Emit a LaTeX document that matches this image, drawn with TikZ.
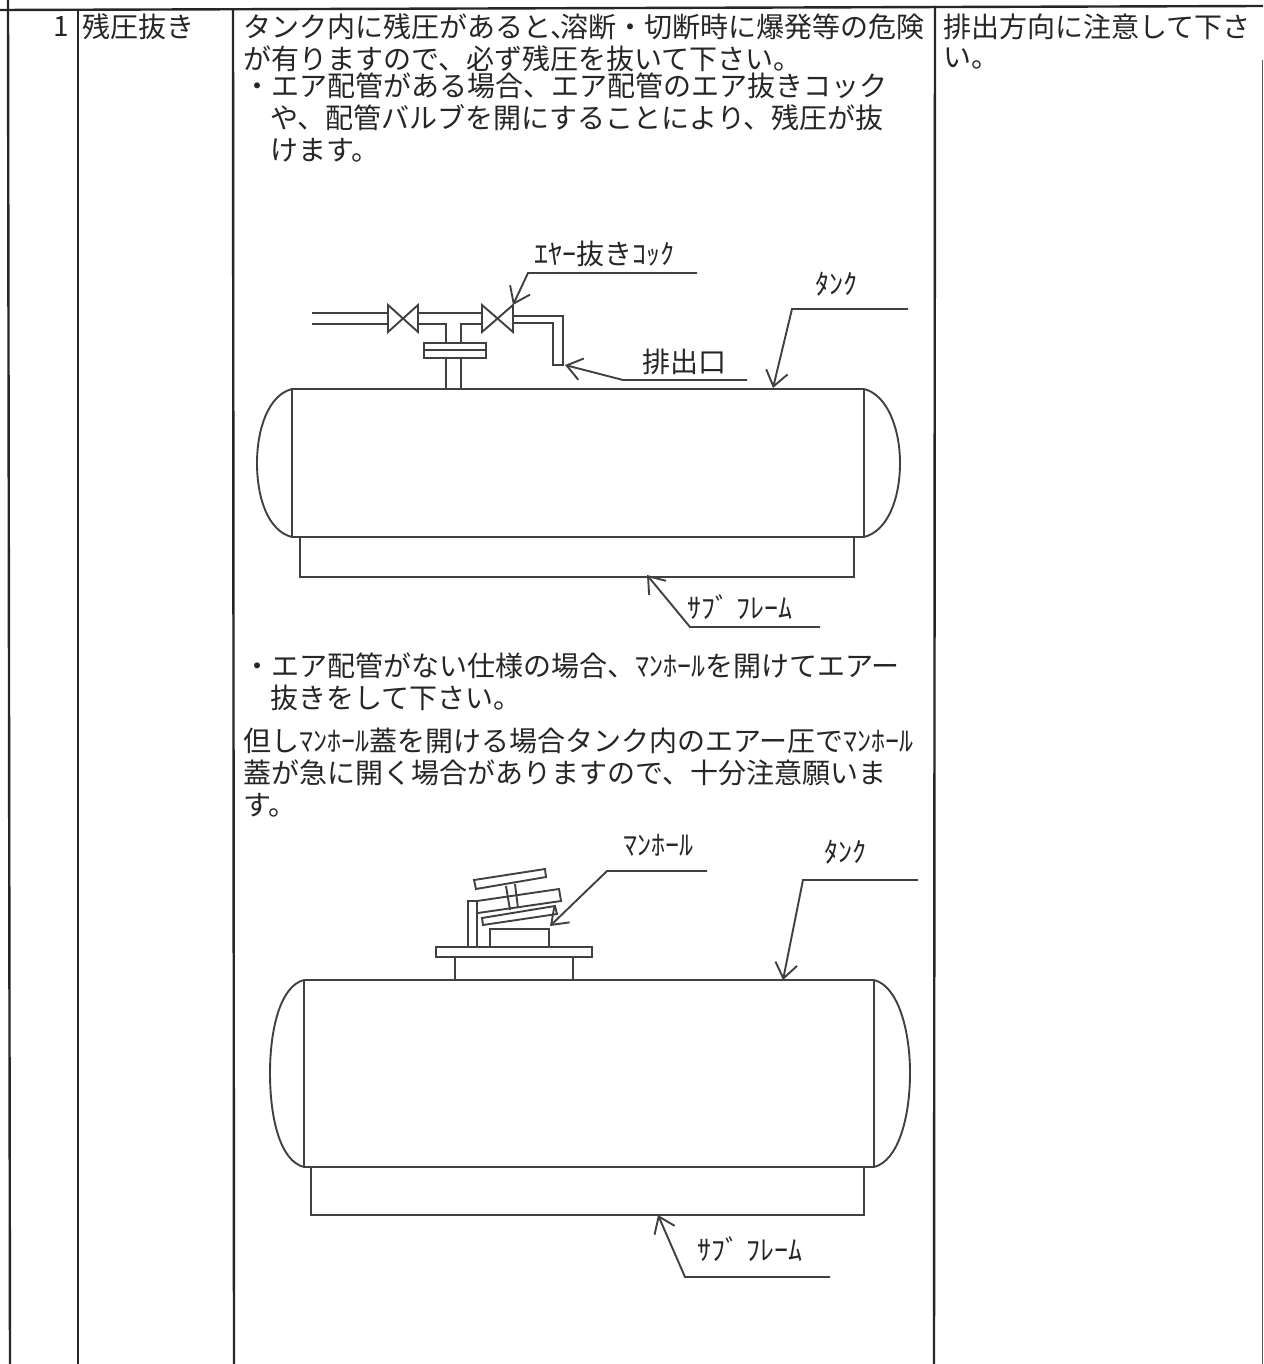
\documentclass[tikz,border=0pt]{standalone}
\usepackage{fontspec}
\setmainfont{Noto Sans CJK JP}
\usetikzlibrary{arrows.meta}
\tikzset{
  rule/.style={line width=2.4pt,black!85},
  part/.style={line width=1.9pt,black!75},
  leader/.style={line width=1.9pt,black!75,-{Straight Barb[length=15pt,width=22pt]}},
  txt/.style={anchor=west,inner sep=0pt,font=\fontsize{28}{32}\selectfont,black!85},
  lbl/.style={inner sep=0pt,font=\fontsize{28}{32}\selectfont,black!85},
}
\begin{document}
\begin{tikzpicture}[x=1pt,y=-1pt]
\useasboundingbox[fill=white] (0,0) rectangle (1263,1364);

% table
\coordinate (tl) at (8,0);
\draw[rule] (tl) -- (10,1364);
\draw[rule] (0,10) -- (1263,6);
\draw[rule] (78,10) -- (78,1364);
\draw[rule] (233,10) -- (234,1364);
\draw[rule] (935,6) -- (934,1364);
\draw[line width=1.2pt,black!65] (1262.4,60) -- (1262.4,1364);

% text
\node[lbl,anchor=east] (no) at (69,27) {1};
\node[txt] (item) at (82,27) {残圧抜き};
\node[txt] (t1) at (243,27) {タンク内に残圧があると、\kern-18pt 溶断・切断時に爆発等の危険};
\node[txt] (t2) at (243,59) {が有りますので、必ず残圧を抜いて下さい。};
\node[txt] (t3) at (243,86) {・エア配管がある場合、エア配管のエア抜きコック};
\node[txt] (t4) at (270,118) {や、配管バルブを開にすることにより、残圧が抜};
\node[txt] (t5) at (270,150) {けます。};
\node[txt] (t6) at (243,666) {・エア配管がない仕様の場合、ﾏﾝﾎｰﾙを開けてエアー};
\node[txt] (t7) at (270,698) {抜きをして下さい。};
\node[txt] (t8) at (243,741) {但しﾏﾝﾎｰﾙ蓋を開ける場合タンク内のエアー圧でﾏﾝﾎｰﾙ};
\node[txt] (t9) at (243,773) {蓋が急に開く場合がありますので、十分注意願いま};
\node[txt] (t10) at (243,805) {す。};
\node[txt] (n1) at (943,27) {排出方向に注意して下さ};
\node[txt] (n2) at (943,59) {い。};

% upper tank
\draw[part] (292,389) -- (864,389) (292,537) -- (864,537);
\draw[part] (292,389) -- (292,537) (864,389) -- (864,537);
\draw[part] (292,389) .. controls (268,395) and (257,430) .. (257,463) .. controls (257,498) and (268,531) .. (292,537);
\draw[part] (864,389) .. controls (888,395) and (900,430) .. (900,463) .. controls (900,498) and (888,531) .. (864,537);
\draw[part] (300,537) -- (300,577) -- (854,577) -- (854,537);

% piping
\draw[part] (312,313) -- (388,313) (312,324) -- (388,324);
\draw[part] (388,305) -- (418,332) -- (418,305) -- (388,332) -- cycle;
\draw[part] (482,305) -- (513,332) -- (513,305) -- (482,332) -- cycle;
\draw[part] (418,313) -- (482,313);
\draw[part] (418,324) -- (446,324) -- (446,343);
\draw[part] (482,324) -- (461,324) -- (461,343);
\draw[part] (424,343) rectangle (486,358);
\draw[part] (424,350) -- (486,350);
\draw[part] (446,358) -- (446,389) (461,358) -- (461,389);
\draw[part] (513,316) -- (563,316) -- (563,365) -- (553,365) -- (553,323) -- (513,323);

% upper labels
\node[lbl] (cock) at (604,254) {ｴﾔｰ抜きｺｯｸ};
\node[lbl] (outlet) at (684,362) {排出口};
\node[lbl] (tank1) at (836,284) {ﾀﾝｸ};
\node[lbl] (frame1) at (740,607) {ｻﾌﾞ ﾌﾚｰﾑ};
\coordinate (cockA) at (697,273);
\coordinate (cockB) at (528,273);
\coordinate (cockC) at (513,305);
\coordinate (outA) at (747,380);
\coordinate (outB) at (623,380);
\coordinate (outC) at (565,365);
\coordinate (tankA) at (908,309);
\coordinate (tankB) at (792,309);
\coordinate (tankC) at (773,388);
\coordinate (frameA) at (820,627);
\coordinate (frameB) at (690,627);
\coordinate (frameC) at (647,575);
\draw[leader] (cockA) -- (cockB) -- (cockC);
\draw[leader] (outA) -- (outB) -- (outC);
\draw[leader] (tankA) -- (tankB) -- (tankC);
\draw[leader] (frameA) -- (frameB) -- (frameC);

% lower tank
\draw[part] (304,980) -- (874,980) (304,1167) -- (874,1167);
\draw[part] (304,980) -- (304,1167) (874,980) -- (874,1167);
\draw[part] (304,980) .. controls (280,986) and (270,1030) .. (270,1073) .. controls (270,1118) and (280,1161) .. (304,1167);
\draw[part] (874,980) .. controls (898,986) and (910,1030) .. (910,1073) .. controls (910,1118) and (898,1161) .. (874,1167);
\draw[part] (311,1167) -- (311,1215) -- (864,1215) -- (864,1167);

% manhole
\draw[part] (455,980) -- (455,957) (573,957) -- (573,980);
\draw[part] (436,947) rectangle (592,957);
\draw[part] (490,947) rectangle (549,929);
\draw[part] (468,947) rectangle (477,901);
\draw[part] (482,918) -- (555,906) -- (557,914) -- (483,925) -- cycle;
\draw[part] (477,901) -- (559,889) -- (561,901) -- (478,913);
\draw[part] (474,880) -- (545,869) -- (546,877) -- (476,889) -- cycle;
\draw[part] (506,886) -- (510,910) (515,884) -- (518,908);

% lower labels
\node[lbl] (manhole) at (658,845) {ﾏﾝﾎｰﾙ};
\node[lbl] (tank2) at (845,852) {ﾀﾝｸ};
\node[lbl] (frame2) at (750,1249) {ｻﾌﾞ ﾌﾚｰﾑ};
\coordinate (holeA) at (707,871);
\coordinate (holeB) at (607,871);
\coordinate (holeC) at (550,926);
\coordinate (tankD) at (918,880);
\coordinate (tankE) at (803,880);
\coordinate (tankF) at (783,980);
\coordinate (frameD) at (830,1277);
\coordinate (frameE) at (685,1277);
\coordinate (frameF) at (658,1215);
\draw[leader] (holeA) -- (holeB) -- (holeC);
\draw[leader] (tankD) -- (tankE) -- (tankF);
\draw[leader] (frameD) -- (frameE) -- (frameF);

\end{tikzpicture}
\end{document}
